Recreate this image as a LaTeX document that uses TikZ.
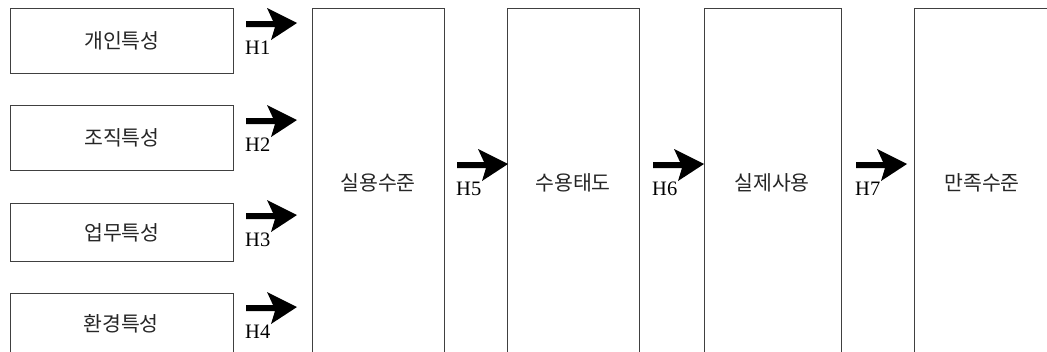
\documentclass[tikz,border=0pt]{standalone}
\usepackage{fontspec}
\setmainfont{Liberation Serif}
\newfontfamily\kr{Noto Sans CJK KR}
\begin{document}
\begin{tikzpicture}[x=1pt,y=-1pt,
  box/.style={draw=black!75,line width=0.9pt,fill=white},
  kor/.style={font=\kr\fontsize{20.5}{22}\selectfont,text=black!85},
  hlab/.style={font=\fontsize{20.5}{22}\selectfont,anchor=base west,inner sep=0pt},
  pics/barrow/.style={code={
    \fill[black] (0,-3) -- (27,-3) -- (21,-16) -- (51,-1) -- (25,16) -- (29,3) -- (0,3) -- cycle;
  }}]
\useasboundingbox (0,0) rectangle (1047,351);
\begin{scope}
\clip (0,0) rectangle (1047,351);
% left boxes
\node[box,minimum width=223pt,minimum height=65pt,anchor=north west] (b1) at (10,8) {};
\node[box,minimum width=223pt,minimum height=65pt,anchor=north west] (b2) at (10,105) {};
\node[box,minimum width=223pt,minimum height=58pt,anchor=north west] (b3) at (10,203) {};
\node[box,minimum width=223pt,minimum height=70pt,anchor=north west] (b4) at (10,293) {};
\node[kor] at (b1.center) {개인특성};
\node[kor] at (b2.center) {조직특성};
\node[kor] at (b3.center) {업무특성};
\node[kor] at (121,324) {환경특성};
% big boxes
\node[box,minimum width=132pt,minimum height=360pt,anchor=north west] (c1) at (312,8) {};
\node[box,minimum width=132pt,minimum height=360pt,anchor=north west] (c2) at (507,8) {};
\node[box,minimum width=137pt,minimum height=360pt,anchor=north west] (c3) at (704,8) {};
\node[box,minimum width=140pt,minimum height=360pt,anchor=north west] (c4) at (914,8) {};
\node[kor] (t1) at (378,183) {실용수준};
\node[kor] (t2) at (573,183) {수용태도};
\node[kor] (t3) at (772,183) {실제사용};
\node[kor] (t4) at (982,183) {만족수준};
\end{scope}
% arrows
\coordinate (a1) at (246,24);
\coordinate (a2) at (246,121);
\coordinate (a3) at (246,216);
\coordinate (a4) at (246,308);
\coordinate (a5) at (457,165);
\coordinate (a6) at (653,165);
\coordinate (a7) at (856,165);
\foreach \i in {1,...,7} {
  \pic at (a\i) {barrow};
  \node[hlab] at ([shift={(-1,30)}]a\i) {H\i};
}
\end{tikzpicture}
\end{document}
